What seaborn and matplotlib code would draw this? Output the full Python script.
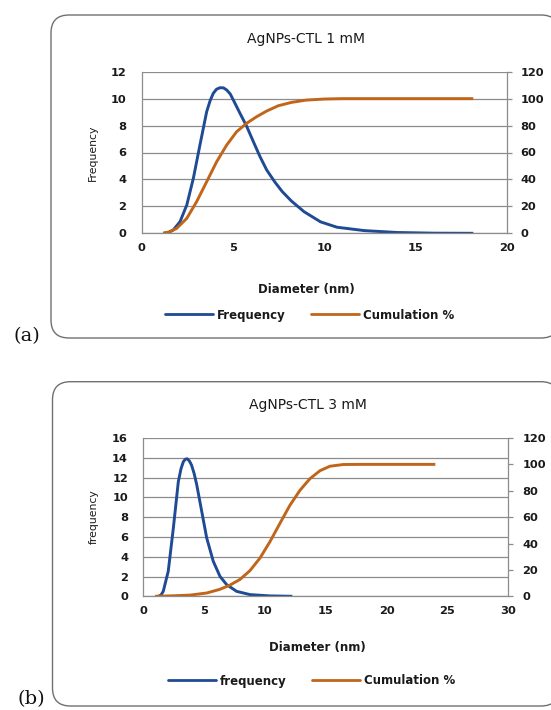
import matplotlib
matplotlib.use("Agg")
import matplotlib.pyplot as plt
from matplotlib.patches import FancyBboxPatch
from matplotlib.lines import Line2D
import seaborn as sns
import pandas as pd

# ---------------- data ----------------
# Panel (a): AgNPs-CTL 1 mM
a_freq_x = [1.18, 1.5, 1.73, 2.1, 2.47, 2.83, 3.19, 3.56, 3.75, 3.92, 4.1, 4.29, 4.48, 4.66,
            4.85, 5.02, 5.39, 5.75, 6.12, 6.48, 6.85, 7.3, 7.7, 8.2, 8.9, 9.8, 10.7,
            12.2, 14.0, 16.0, 18.17]
a_freq_y = [0, 0.08, 0.25, 0.86, 2.1, 4.08, 6.55, 9.03, 9.85, 10.39, 10.7, 10.81, 10.8, 10.64,
            10.35, 9.9, 8.9, 7.95, 6.8, 5.7, 4.7, 3.8, 3.1, 2.4, 1.6, 0.85, 0.45,
            0.2, 0.06, 0.01, 0]
a_cum_x = [1.18, 1.5, 1.92, 2.47, 3.01, 3.56, 4.11, 4.66, 5.2, 5.75, 6.3, 6.85, 7.48,
           8.2, 9.0, 10.0, 11.0, 14.0, 18.17]
a_cum_y = [0, 1.0, 3.7, 11.1, 23.5, 38.3, 53.2, 65.6, 75.4, 81.7, 86.6, 90.8, 94.7,
           97.2, 98.9, 99.7, 100, 100, 100]

# Panel (b): AgNPs-CTL 3 mM
b_freq_x = [1.23, 1.45, 1.64, 2.05, 2.47, 2.88, 3.1, 3.29, 3.45, 3.6, 3.78, 3.97, 4.18,
            4.39, 4.8, 5.21, 5.75, 6.3, 6.85, 7.67, 8.77, 10.4, 12.25]
b_freq_y = [0, 0.12, 0.5, 2.53, 6.9, 11.6, 12.9, 13.6, 13.85, 13.9, 13.7, 13.25, 12.4,
            11.28, 8.6, 5.9, 3.54, 2.02, 1.18, 0.5, 0.17, 0.04, 0]
b_cum_x = [0.96, 2.5, 3.84, 5.21, 6.3, 7.12, 7.95, 8.77, 9.59, 10.41, 11.23, 12.05,
           12.88, 13.7, 14.52, 15.34, 16.43, 17.8, 20.0, 24.0]
b_cum_y = [0, 0.4, 0.9, 2.5, 5.3, 8.5, 12.8, 19.5, 29, 41.4, 55.3, 69.0,
           80.4, 89.2, 95.2, 98.6, 99.9, 100, 100, 100]

titles = ["AgNPs-CTL 1 mM", "AgNPs-CTL 3 mM"]
freq_names = ["Frequency", "frequency"]
cum_name = "Cumulation %"
x_label = "Diameter (nm)"
panel_tags = ["(a)", "(b)"]
a_xticks = [0, 5, 10, 15, 20]
b_xticks = [0, 5, 10, 15, 20, 25, 30]
a_yticks = [0, 2, 4, 6, 8, 10, 12]
b_yticks = [0, 2, 4, 6, 8, 10, 12, 14, 16]
right_ticks = [0, 20, 40, 60, 80, 100, 120]

# ---------------- style ----------------
sns.set_theme(style="white")
plt.rcParams["font.family"] = ["DejaVu Sans"]

BLUE = "#1f4a94"
ORANGE = "#c0651a"
GRID = "#8c8c8c"
TXT = "#1a1a1a"
W, H = 551, 710

fig = plt.figure(figsize=(W / 100, H / 100), dpi=100)
fig.patch.set_facecolor("white")

bg = fig.add_axes([0, 0, 1, 1])
bg.set_xlim(0, W)
bg.set_ylim(H, 0)
bg.axis("off")


def ftext(xp, yp, s, **kw):
    kw.setdefault("ha", "center")
    kw.setdefault("va", "center")
    kw.setdefault("color", TXT)
    fig.text(xp / W, 1 - yp / H, s, **kw)


# boxes (pixel coordinates)
boxes = [(51, 15, 559, 338), (52.5, 381.7, 559, 706)]
for (x0, y0, x1, y1) in boxes:
    bg.add_patch(FancyBboxPatch((x0, y0), x1 - x0, y1 - y0,
                                boxstyle="round,pad=0,rounding_size=18",
                                ec="#707070", fc="white", lw=1.0))

panels = [
    dict(rect=(141.7, 71.7, 506.7, 233.3), fx=a_freq_x, fy=a_freq_y, cx=a_cum_x, cy=a_cum_y,
         xt=a_xticks, yt=a_yticks, title_xy=(306, 38.5), xl_xy=(306, 289),
         yl_xy=(92.5, 152.5), leg_xy=(309.5, 315), tag_xy=(27, 336)),
    dict(rect=(143.3, 438.0, 508.3, 596.3), fx=b_freq_x, fy=b_freq_y, cx=b_cum_x, cy=b_cum_y,
         xt=b_xticks, yt=b_yticks, title_xy=(307.6, 405), xl_xy=(317, 647),
         yl_xy=(94, 517), leg_xy=(311.5, 681), tag_xy=(31, 699)),
]

for i, p in enumerate(panels):
    l, t, r, b = p["rect"]
    ax = fig.add_axes([l / W, 1 - b / H, (r - l) / W, (b - t) / H])
    ax.patch.set_alpha(0)
    dff = pd.DataFrame({"Diameter": p["fx"], "val": p["fy"]})
    dfc = pd.DataFrame({"Diameter": p["cx"], "val": p["cy"]})
    sns.lineplot(data=dff, x="Diameter", y="val", ax=ax, color=BLUE, lw=2.1,
                 solid_joinstyle="round", solid_capstyle="butt", estimator=None, sort=False)
    tw = ax.twinx()
    sns.lineplot(data=dfc, x="Diameter", y="val", ax=tw, color=ORANGE, lw=2.1,
                 solid_joinstyle="round", solid_capstyle="butt", estimator=None, sort=False)

    ax.set_xlim(p["xt"][0], p["xt"][-1])
    ax.set_ylim(p["yt"][0], p["yt"][-1])
    tw.set_ylim(0, 120)
    ax.set_xticks(p["xt"])
    ax.set_yticks(p["yt"])
    tw.set_yticks(right_ticks)
    ax.set_xlabel("")
    ax.set_ylabel("")
    tw.set_ylabel("")

    ax.grid(False)
    tw.grid(False)
    ax.yaxis.grid(True, color=GRID, lw=0.9)
    ax.set_axisbelow(True)

    for s in ["top", "right"]:
        ax.spines[s].set_visible(False)
    for s in ["left", "bottom"]:
        ax.spines[s].set_color(GRID)
        ax.spines[s].set_linewidth(0.9)
    for s in ["top", "left", "bottom"]:
        tw.spines[s].set_visible(False)
    tw.spines["right"].set_color(GRID)
    tw.spines["right"].set_linewidth(0.9)

    ax.tick_params(axis="y", length=0, pad=11, labelsize=8.2, labelcolor=TXT)
    ax.tick_params(axis="x", length=0, pad=7, labelsize=8.2, labelcolor=TXT)
    tw.tick_params(axis="y", length=3.5, width=0.9, color=GRID, pad=6.5,
                   labelsize=8.2, labelcolor=TXT)
    for lab in ax.get_xticklabels() + ax.get_yticklabels() + tw.get_yticklabels():
        lab.set_fontweight("bold")

    ftext(*p["title_xy"], titles[i], fontsize=10)
    ftext(*p["xl_xy"], x_label, fontsize=8.5, fontweight="bold")
    ftext(*p["yl_xy"], freq_names[i], fontsize=7.8, rotation=90)
    ftext(*p["tag_xy"], panel_tags[i], fontsize=14, family="DejaVu Serif", color="#111111")

    handles = [Line2D([], [], color=BLUE, lw=2.0), Line2D([], [], color=ORANGE, lw=2.0)]
    lx, ly = p["leg_xy"]
    leg = fig.legend(handles, [freq_names[i], cum_name], loc="center",
                     bbox_to_anchor=(lx / W, 1 - ly / H), ncol=2, frameon=False,
                     handlelength=4.1, handletextpad=0.35, columnspacing=2.1,
                     borderaxespad=0, borderpad=0,
                     prop={"size": 8.5, "weight": "bold"})
    for txt in leg.get_texts():
        txt.set_color(TXT)

fig.savefig("out.png", dpi=100, facecolor="white")
